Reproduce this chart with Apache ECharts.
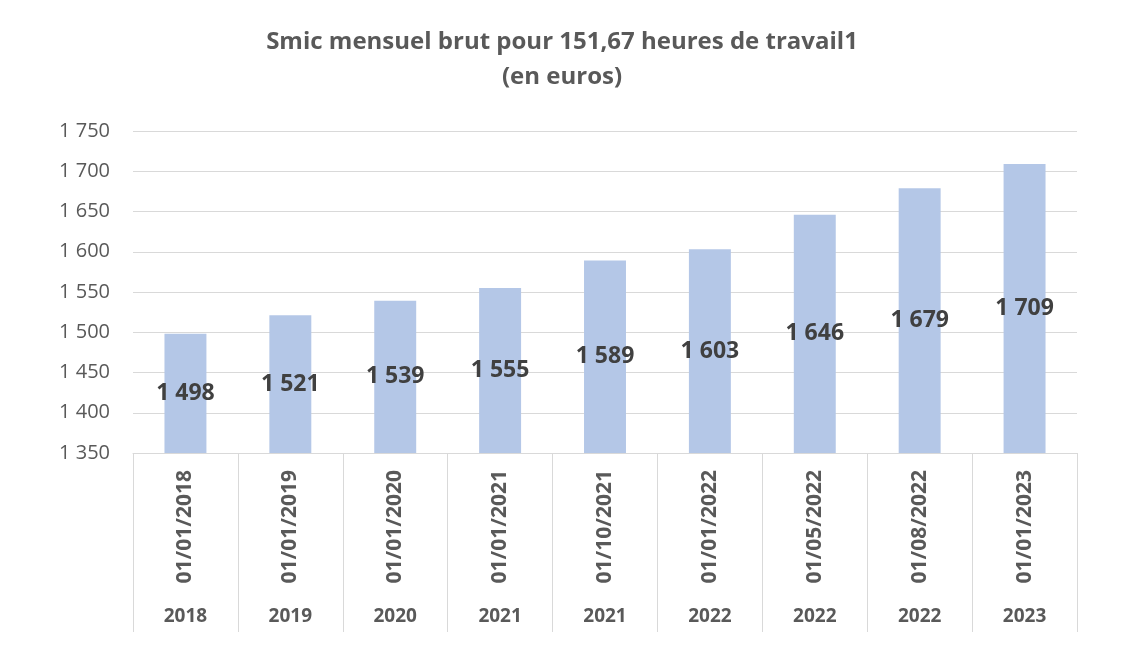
<!DOCTYPE html>
<html>
<head>
<meta charset="utf-8">
<script src="https://cdn.jsdelivr.net/npm/echarts@6/dist/echarts.min.js"></script>
<style>
html,body{margin:0;padding:0;background:#fff;}
#chart{width:1124px;height:668px;}
</style>
</head>
<body>
<div id="chart"></div>
<script>
const dates = ['01/01/2018','01/01/2019','01/01/2020','01/01/2021','01/10/2021','01/01/2022','01/05/2022','01/08/2022','01/01/2023'];
const years = ['2018','2019','2020','2021','2021','2022','2022','2022','2023'];
const smic = [1498, 1521, 1539, 1555, 1589, 1603, 1646, 1679, 1709];
const yTicks = {min: 1350, max: 1750, interval: 50};

function fmt(v){ return String(v).replace(/\B(?=(\d{3})+(?!\d))/g, ' '); }

const chart = echarts.init(document.getElementById('chart'));
const FONT = '"Open Sans", "Liberation Sans", sans-serif';
chart.setOption({
  animation: false,
  backgroundColor: '#ffffff',
  title: {
    text: 'Smic mensuel brut pour 151,67 heures de travail1\n(en euros)',
    left: 'center',
    top: 20,
    textStyle: {fontFamily: FONT, fontSize: 24, fontWeight: 'bold', color: '#595959', lineHeight: 35}
  },
  grid: {left: 133, right: 47, top: 131, bottom: 215, containLabel: false},
  xAxis: [{
    type: 'category',
    data: dates,
    axisLine: {show: true, lineStyle: {color: '#d9d9d9', width: 1}},
    axisTick: {show: true, length: 179, interval: 0, lineStyle: {color: '#d9d9d9', width: 1}},
    axisLabel: {interval: 0, rotate: 90, margin: 17, fontFamily: FONT, fontSize: 21, fontWeight: 'bold', color: '#595959'}
  }, {
    type: 'category',
    position: 'bottom',
    data: dates,
    axisLine: {show: false},
    axisTick: {show: false},
    axisLabel: {interval: 0, margin: 154, fontFamily: FONT, fontSize: 19, fontWeight: 'bold', color: '#595959',
      formatter: function(v, i){ return years[i]; }}
  }],
  yAxis: {
    type: 'value',
    min: yTicks.min, max: yTicks.max, interval: yTicks.interval,
    axisLine: {show: false},
    axisTick: {show: false},
    splitLine: {lineStyle: {color: '#d9d9d9', width: 1}},
    axisLabel: {margin: 23, fontFamily: FONT, fontSize: 20, color: '#595959', formatter: fmt}
  },
  series: [{
    type: 'bar',
    data: smic,
    barWidth: '40%',
    itemStyle: {color: '#b4c7e7'},
    label: {show: true, position: 'inside', fontFamily: FONT, fontSize: 23, fontWeight: 'bold', color: '#404040', formatter: function(p){ return fmt(p.value); }}
  }]
});
</script>
</body>
</html>
